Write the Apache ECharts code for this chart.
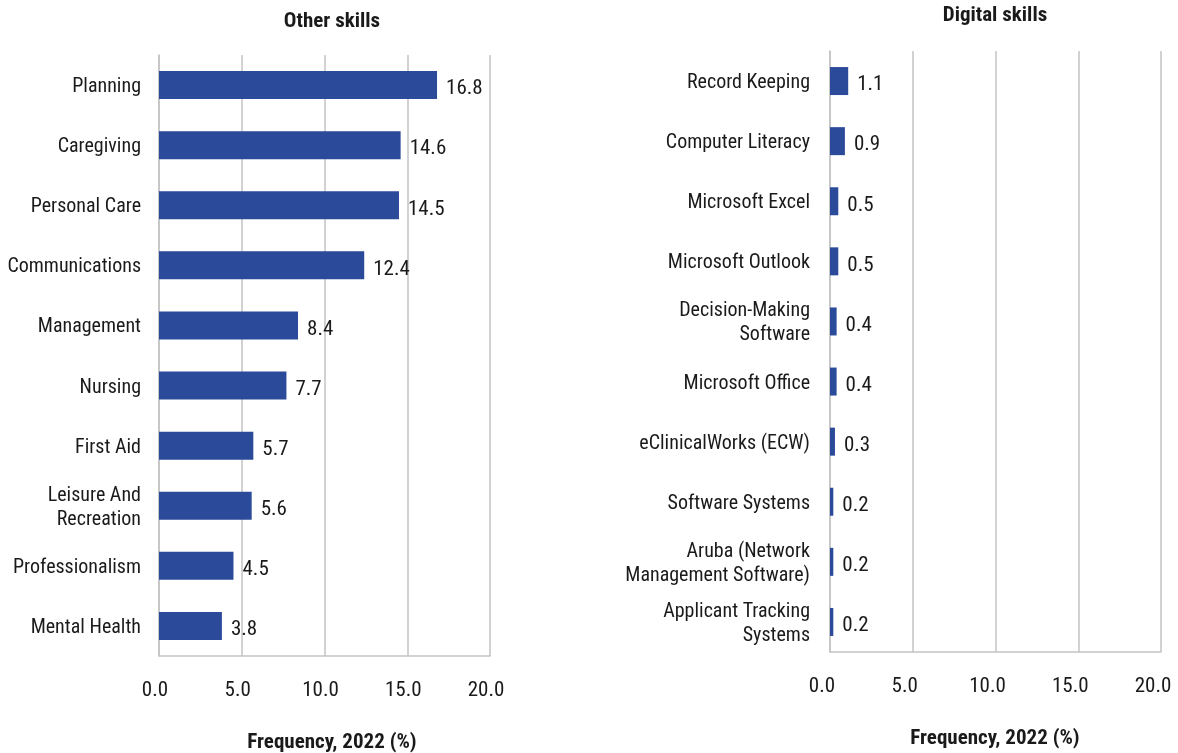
<!DOCTYPE html>
<html>
<head>
<meta charset="utf-8">
<script src="https://cdn.jsdelivr.net/npm/echarts@6/dist/echarts.min.js"></script>
<style>
  html, body { margin: 0; padding: 0; background: #fff; }
  #chart { width: 1178px; height: 753px; }
</style>
</head>
<body>
<div id="chart"></div>
<script>
// Other skills panel
const otherSkills = ['Planning', 'Caregiving', 'Personal Care', 'Communications', 'Management',
  'Nursing', 'First Aid', 'Leisure And\nRecreation', 'Professionalism', 'Mental Health'];
const otherValues = [16.8, 14.6, 14.5, 12.4, 8.4, 7.7, 5.7, 5.6, 4.5, 3.8];

// Digital skills panel
const digitalSkills = ['Record Keeping', 'Computer Literacy', 'Microsoft Excel', 'Microsoft Outlook',
  'Decision-Making\nSoftware', 'Microsoft Office', 'eClinicalWorks (ECW)', 'Software Systems',
  'Aruba (Network\nManagement Software)', 'Applicant Tracking\nSystems'];
const digitalValues = [1.1, 0.9, 0.5, 0.5, 0.4, 0.4, 0.3, 0.2, 0.2, 0.2];

// Shared axis range and titles
const axisMin = 0, axisMax = 20, axisStep = 5;
const panelTitles = ['Other skills', 'Digital skills'];
const axisTitle = 'Frequency, 2022 (%)';

const FONT = '"Roboto Condensed", "Liberation Sans Narrow", "Arial Narrow", "Liberation Sans", sans-serif';
const TEXT = '#1a1a1a';
const GRID_LINE = '#c3c3c3';
const BAR = '#2b4a9a';

function xAxisFor(gridIndex, shiftLeft) {
  return {
    type: 'value', gridIndex, min: axisMin, max: axisMax, interval: axisStep,
    axisLine: { show: true, lineStyle: { color: GRID_LINE, width: 1.5 } },
    axisTick: { show: false },
    splitLine: { show: true, lineStyle: { color: GRID_LINE, width: 1.5 } },
    axisLabel: {
      margin: 24, color: TEXT, fontFamily: FONT, fontSize: 21,
      padding: [0, shiftLeft * 2, 0, 0],
      formatter: v => v.toFixed(1)
    }
  };
}
// Category names are wrapped in a rich token so each line sits a little lower,
// centring the capitals on the bar.
function yAxisFor(gridIndex, cats, margin) {
  return {
    type: 'category', gridIndex, data: cats, inverse: true,
    axisLine: { show: true, lineStyle: { color: GRID_LINE, width: 1.5 } },
    axisTick: { show: false },
    axisLabel: {
      margin, color: TEXT, fontFamily: FONT, fontSize: 20, lineHeight: 24, align: 'right',
      formatter: v => v.split('\n').map(line => '{c|' + line + '}').join('\n'),
      rich: {
        c: { fontFamily: FONT, fontSize: 20, lineHeight: 24, color: TEXT, padding: [4, 0, 0, 0] }
      }
    }
  };
}
function barSeries(idx, values) {
  return {
    type: 'bar', xAxisIndex: idx, yAxisIndex: idx, data: values,
    barWidth: 28, itemStyle: { color: BAR },
    label: {
      show: true, position: 'right', distance: 9, offset: [0, 4], color: TEXT,
      fontFamily: FONT, fontSize: 21, formatter: p => p.value.toFixed(1)
    },
    silent: true
  };
}
function textTitle(text, cx, top) {
  return {
    text, left: cx, top, textAlign: 'center', padding: 0,
    textStyle: { fontFamily: FONT, fontSize: 21, fontWeight: 'bold', color: TEXT }
  };
}

const chart = echarts.init(document.getElementById('chart'), null, { renderer: 'canvas' });
chart.setOption({
  animation: false,
  backgroundColor: '#fff',
  title: [
    textTitle(panelTitles[0], 332, 11),
    textTitle(panelTitles[1], 995, 5),
    textTitle(axisTitle, 332, 732),
    textTitle(axisTitle, 995, 728)
  ],
  grid: [
    { left: 159, right: 688, top: 55, bottom: 97, containLabel: false, outerBoundsMode: 'none' },
    { left: 830, right: 17, top: 51, bottom: 101, containLabel: false, outerBoundsMode: 'none' }
  ],
  xAxis: [xAxisFor(0, 4), xAxisFor(1, 8)],
  yAxis: [yAxisFor(0, otherSkills, 18), yAxisFor(1, digitalSkills, 20)],
  series: [barSeries(0, otherValues), barSeries(1, digitalValues)]
});
</script>
</body>
</html>
